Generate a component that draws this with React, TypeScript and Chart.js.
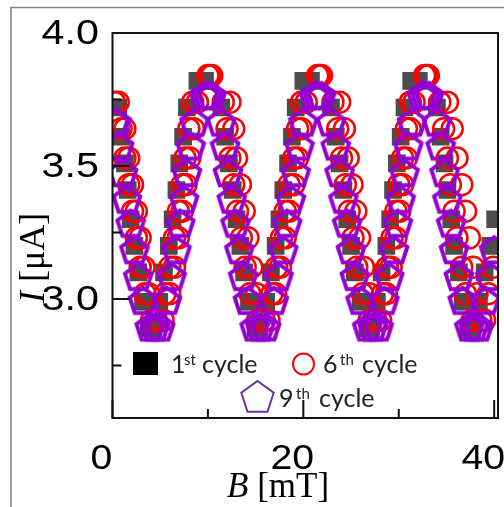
import React, { useEffect, useRef } from "react";
import { Chart, registerables } from "chart.js";

Chart.register(...registerables);

// Axis ranges
const B_MIN = 0;
const B_MAX = 40.4;
const I_MIN = 2.553;
const I_MAX = 4.0;

// Tick values and labels
const xMajorTicks = [0, 20, 40];
const xMinorTicks = [10, 30];
const xTickLabels = ["0", "20", "40"];
const yMajorTicks = [3.0, 3.5, 4.0];
const yMinorTicks = [2.75, 3.25, 3.75];
const yTickLabels = ["3.0", "3.5", "4.0"];

// 1st cycle: B [mT] and I [μA]
const cycle1B = [
  0.6, 0.9, 1.3, 1.6, 1.9, 2.3, 2.7, 3.2, 3.8,
  4.3, 4.9, 5.4, 5.9, 6.3, 6.7, 7.0, 7.4, 7.8,
  8.9, 9.3, 9.7,
  11.4, 11.8, 12.2, 12.6, 13.0, 13.4, 13.8, 14.3, 15.0,
  15.4, 16.1, 16.6, 17.1, 17.5, 17.9, 18.4, 18.8, 19.2,
  20.0, 20.4, 20.8,
  22.9, 23.4, 23.8, 24.2, 24.6, 25.0, 25.4, 26.0, 26.7,
  27.1, 27.7, 28.2, 28.7, 29.1, 29.4, 29.8, 30.2, 30.6,
  31.3, 31.7, 32.1,
  34.0, 34.4, 34.8, 35.1, 35.5, 35.8, 36.3, 36.7, 37.3,
  37.7, 38.4, 39.0, 39.6, 40.1,
];
const cycle1I = [
  3.72, 3.61, 3.51, 3.41, 3.30, 3.20, 3.10, 2.99, 2.89,
  2.89, 2.99, 3.10, 3.20, 3.30, 3.41, 3.51, 3.61, 3.72,
  3.82, 3.82, 3.82,
  3.72, 3.61, 3.51, 3.41, 3.30, 3.20, 3.10, 2.99, 2.89,
  2.89, 2.99, 3.10, 3.20, 3.30, 3.41, 3.51, 3.61, 3.72,
  3.82, 3.82, 3.82,
  3.72, 3.61, 3.51, 3.41, 3.30, 3.20, 3.10, 2.99, 2.89,
  2.89, 2.99, 3.10, 3.20, 3.30, 3.41, 3.51, 3.61, 3.72,
  3.82, 3.82, 3.82,
  3.72, 3.61, 3.51, 3.41, 3.30, 3.20, 3.10, 2.99, 2.89,
  2.89, 2.99, 3.10, 3.20, 3.30,
];

// 6th cycle (down-sweep pairs, up-sweep points, then the second up-sweep pass)
const cycle6B = [
  0.2, 0.6, 0.9, 1.3, 1.3, 1.7, 1.7, 2.1, 2.1, 2.5, 2.5, 2.9, 2.9, 3.3, 3.4, 3.8, 4.1, 4.6,
  5.3, 6.0, 6.5, 6.9, 7.3, 7.7, 8.1, 8.5, 8.9,
  10.0, 10.2, 10.4,
  11.6, 12.3, 12.0, 12.7, 12.3, 13.0, 12.7, 13.4, 13.1, 13.8, 13.5, 14.2, 13.9, 14.6, 14.4, 15.1, 15.2, 15.9,
  16.4, 17.1, 17.6, 18.1, 18.5, 19.0, 19.4, 19.8, 20.3,
  21.5, 21.7, 21.9,
  23.1, 23.8, 23.6, 24.3, 24.0, 24.7, 24.4, 25.1, 24.8, 25.5, 25.2, 25.9, 25.6, 26.3, 26.2, 26.9, 26.9, 27.6,
  28.1, 28.7, 29.2, 29.7, 30.1, 30.4, 30.8, 31.2, 31.6,
  32.7, 32.9, 33.1,
  34.3, 35.1, 34.7, 35.6, 35.1, 36.1, 35.4, 36.6, 35.8, 37.0, 36.1, 37.4, 36.6, 37.8, 37.0, 38.2, 37.7, 38.6,
  39.0, 39.4, 39.9,
  5.5, 6.0, 6.5, 6.9, 7.3, 7.6, 8.0, 8.4,
  16.7, 17.2, 17.7, 18.1, 18.5, 19.0, 19.4, 19.8,
  28.3, 28.8, 29.3, 29.7, 30.0, 30.4, 30.8, 31.2,
];
const cycle6I = [
  3.74, 3.74, 3.64, 3.64, 3.53, 3.53, 3.43, 3.43, 3.33, 3.33, 3.23, 3.23, 3.12, 3.12, 3.02, 3.02, 2.92, 2.92,
  2.92, 3.02, 3.12, 3.23, 3.33, 3.43, 3.53, 3.64, 3.74,
  3.84, 3.84, 3.84,
  3.74, 3.74, 3.64, 3.64, 3.53, 3.53, 3.43, 3.43, 3.33, 3.33, 3.23, 3.23, 3.12, 3.12, 3.02, 3.02, 2.92, 2.92,
  2.92, 3.02, 3.12, 3.23, 3.33, 3.43, 3.53, 3.64, 3.74,
  3.84, 3.84, 3.84,
  3.74, 3.74, 3.64, 3.64, 3.53, 3.53, 3.43, 3.43, 3.33, 3.33, 3.23, 3.23, 3.12, 3.12, 3.02, 3.02, 2.92, 2.92,
  2.92, 3.02, 3.12, 3.23, 3.33, 3.43, 3.53, 3.64, 3.74,
  3.84, 3.84, 3.84,
  3.74, 3.74, 3.64, 3.64, 3.53, 3.53, 3.43, 3.43, 3.33, 3.33, 3.23, 3.23, 3.12, 3.12, 3.02, 3.02, 2.92, 2.92,
  2.92, 3.02, 3.12,
  3.02, 3.12, 3.23, 3.33, 3.43, 3.53, 3.64, 3.74,
  3.02, 3.12, 3.23, 3.33, 3.43, 3.53, 3.64, 3.74,
  3.02, 3.12, 3.23, 3.33, 3.43, 3.53, 3.64, 3.74,
];

// 9th cycle
const cycle9B = [
  0.2, 0.45, 0.7, 1.1, 1.5, 1.9, 2.3, 2.7, 3.2, 3.9,
  4.45, 5.0, 5.7, 6.2, 6.7, 7.1, 7.5, 7.8, 8.2, 8.6,
  9.6, 10.0, 10.4,
  11.4, 11.8, 12.1, 12.5, 12.9, 13.3, 13.7, 14.2, 14.9,
  15.5, 16.1, 16.9, 17.4, 17.9, 18.3, 18.7, 19.2, 19.6, 20.0,
  21.1, 21.5, 21.9,
  22.9, 23.4, 23.8, 24.2, 24.6, 25.0, 25.4, 26.0, 26.7,
  27.3, 27.9, 28.5, 29.0, 29.5, 29.9, 30.2, 30.6, 31.0, 31.4,
  32.4, 32.8, 33.2,
  34.0, 34.4, 34.8, 35.1, 35.5, 35.8, 36.3, 36.7, 37.4,
  37.9, 38.4, 39.1, 39.6, 40.0,
];
const cycle9I = [
  3.66, 3.66, 3.57, 3.47, 3.37, 3.28, 3.18, 3.08, 2.99, 2.89,
  2.89, 2.89, 2.99, 3.08, 3.18, 3.28, 3.37, 3.47, 3.57, 3.66,
  3.76, 3.76, 3.76,
  3.66, 3.57, 3.47, 3.37, 3.28, 3.18, 3.08, 2.99, 2.89,
  2.89, 2.89, 2.99, 3.08, 3.18, 3.28, 3.37, 3.47, 3.57, 3.66,
  3.76, 3.76, 3.76,
  3.66, 3.57, 3.47, 3.37, 3.28, 3.18, 3.08, 2.99, 2.89,
  2.89, 2.89, 2.99, 3.08, 3.18, 3.28, 3.37, 3.47, 3.57, 3.66,
  3.76, 3.76, 3.76,
  3.66, 3.57, 3.47, 3.37, 3.28, 3.18, 3.08, 2.99, 2.89,
  2.89, 2.89, 2.99, 3.08, 3.18,
];

const SANS = '"Liberation Sans", Arial, sans-serif';
const SERIF = '"Liberation Serif", "Times New Roman", serif';
const LEGEND_FONT = 'Lato, "Noto Sans", sans-serif';

const toPoints = (xs: number[], ys: number[]) =>
  xs.map((x, i) => ({ x, y: ys[i] }));

function pentagonPath(ctx: CanvasRenderingContext2D, cx: number, cy: number, r: number) {
  ctx.beginPath();
  for (let i = 0; i < 5; i++) {
    const a = -Math.PI / 2 + (i * 2 * Math.PI) / 5;
    const px = cx + r * Math.cos(a);
    const py = cy + r * Math.sin(a);
    if (i === 0) ctx.moveTo(px, py);
    else ctx.lineTo(px, py);
  }
  ctx.closePath();
}

function pentagonMarker(r: number, lineWidth: number, color: string) {
  const size = Math.ceil(2 * r + 2 * lineWidth + 2);
  const c = document.createElement("canvas");
  c.width = size;
  c.height = size;
  const g = c.getContext("2d")!;
  pentagonPath(g, size / 2, size / 2, r);
  g.strokeStyle = color;
  g.lineWidth = lineWidth;
  g.lineJoin = "miter";
  g.stroke();
  return c;
}

// Axes, ticks, labels, titles and the legend, all drawn over the data
const decorations = {
  id: "decorations",
  afterDraw(chart: any) {
    const { ctx, chartArea: a, scales } = chart;
    const xs = scales.x;
    const ys = scales.y;
    ctx.save();

    // outer figure border
    ctx.strokeStyle = "#808080";
    ctx.lineWidth = 1.5;
    ctx.beginPath();
    ctx.moveTo(11, 507);
    ctx.lineTo(11, 7.5);
    ctx.lineTo(504, 7.5);
    ctx.stroke();

    // plot box
    ctx.strokeStyle = "#111";
    ctx.lineWidth = 2;
    ctx.beginPath();
    ctx.moveTo(a.left, a.top);
    ctx.lineTo(a.right, a.top);
    ctx.lineTo(a.right, a.bottom);
    ctx.lineTo(a.left, a.bottom);
    ctx.closePath();
    ctx.stroke();

    // inward ticks
    ctx.beginPath();
    yMajorTicks.forEach((v) => {
      const y = ys.getPixelForValue(v);
      ctx.moveTo(a.left, y);
      ctx.lineTo(a.left + 17, y);
    });
    yMinorTicks.forEach((v) => {
      const y = ys.getPixelForValue(v);
      ctx.moveTo(a.left, y);
      ctx.lineTo(a.left + 9, y);
    });
    xMajorTicks.forEach((v) => {
      const x = xs.getPixelForValue(v);
      ctx.moveTo(x, a.bottom);
      ctx.lineTo(x, a.bottom - 18);
    });
    xMinorTicks.forEach((v) => {
      const x = xs.getPixelForValue(v);
      ctx.moveTo(x, a.bottom);
      ctx.lineTo(x, a.bottom - 9);
    });
    ctx.stroke();

    // tick labels
    ctx.fillStyle = "#000";
    ctx.font = `35px ${SANS}`;
    ctx.textBaseline = "alphabetic";
    yMajorTicks.forEach((v, i) => {
      const y = ys.getPixelForValue(v);
      ctx.save();
      ctx.translate(99, y + 11);
      ctx.scale(1.18, 1);
      ctx.textAlign = "right";
      ctx.fillText(yTickLabels[i], 0, 0);
      ctx.restore();
    });
    xMajorTicks.forEach((v, i) => {
      const x = xs.getPixelForValue(v);
      ctx.save();
      ctx.translate(x - 11, 469);
      ctx.scale(1.12, 1);
      ctx.textAlign = "center";
      ctx.fillText(xTickLabels[i], 0, 0);
      ctx.restore();
    });

    // axis titles
    ctx.textAlign = "left";
    ctx.save();
    ctx.translate(44, 303);
    ctx.rotate(-Math.PI / 2);
    ctx.font = `italic 36px ${SERIF}`;
    ctx.fillText("I", 0, 0);
    let w = ctx.measureText("I").width;
    ctx.font = `36px ${SERIF}`;
    ctx.fillText(" [μA]", w, 0);
    ctx.restore();

    ctx.font = `italic 35px ${SERIF}`;
    ctx.fillText("B", 227, 497);
    w = ctx.measureText("B").width;
    ctx.font = `35px ${SERIF}`;
    ctx.fillText(" [mT]", 227 + w, 497);

    // legend
    ctx.fillStyle = "#000";
    ctx.fillRect(133, 352, 25, 23);

    ctx.strokeStyle = "#ff0000";
    ctx.lineWidth = 2;
    ctx.beginPath();
    ctx.arc(303.5, 364, 10.5, 0, Math.PI * 2);
    ctx.stroke();

    ctx.strokeStyle = "#7030a0";
    ctx.lineWidth = 2;
    pentagonPath(ctx, 257.5, 398, 17);
    ctx.stroke();

    const entry = (x: number, base: number, num: string, sup: string, supX: number, wordX: number) => {
      ctx.fillStyle = "#222";
      ctx.font = `25px ${LEGEND_FONT}`;
      ctx.fillText(num, x, base);
      ctx.fillText("cycle", wordX, base);
      ctx.font = `15px ${LEGEND_FONT}`;
      ctx.fillText(sup, supX, base - 8);
    };
    entry(171, 373, "1", "st", 184, 202);
    entry(323, 373, "6", "th", 340, 362);
    entry(279, 407, "9", "th", 296, 319);

    ctx.restore();
  },
};

export default function App() {
  const canvasRef = useRef<HTMLCanvasElement | null>(null);

  useEffect(() => {
    const canvas = canvasRef.current;
    if (!canvas) return;
    const pent = pentagonMarker(14, 4, "#9400d3");

    const chart = new Chart(canvas, {
      type: "scatter",
      data: {
        datasets: [
          {
            label: "9th cycle",
            data: toPoints(cycle9B, cycle9I),
            pointStyle: pent as any,
            pointRadius: 14,
            order: 1,
            clip: 0,
          },
          {
            label: "6th cycle",
            data: toPoints(cycle6B, cycle6I),
            pointStyle: "circle",
            pointRadius: 10.5,
            pointBorderWidth: 2.5,
            pointBorderColor: "#ff0000",
            pointBackgroundColor: "rgba(0,0,0,0)",
            order: 2,
            clip: 0,
          },
          {
            label: "1st cycle",
            data: toPoints(cycle1B, cycle1I),
            pointStyle: "rect",
            pointRadius: 12.5,
            pointBorderWidth: 0,
            pointBackgroundColor: "#4d4d4d",
            pointBorderColor: "#4d4d4d",
            order: 3,
            clip: 0,
          },
        ],
      },
      options: {
        responsive: false,
        animation: false,
        devicePixelRatio: 1,
        events: [],
        layout: {
          autoPadding: false,
          padding: { left: 112.5, top: 33, right: 6, bottom: 89 },
        },
        plugins: {
          legend: { display: false },
          tooltip: { enabled: false },
        },
        scales: {
          x: { type: "linear", min: B_MIN, max: B_MAX, display: false },
          y: { type: "linear", min: I_MIN, max: I_MAX, display: false },
        },
      },
      plugins: [decorations],
    });

    return () => chart.destroy();
  }, []);

  return (
    <div style={{ position: "absolute", left: 0, top: 0, width: 504, height: 507, background: "#fff" }}>
      <canvas ref={canvasRef} width={504} height={507} />
    </div>
  );
}
